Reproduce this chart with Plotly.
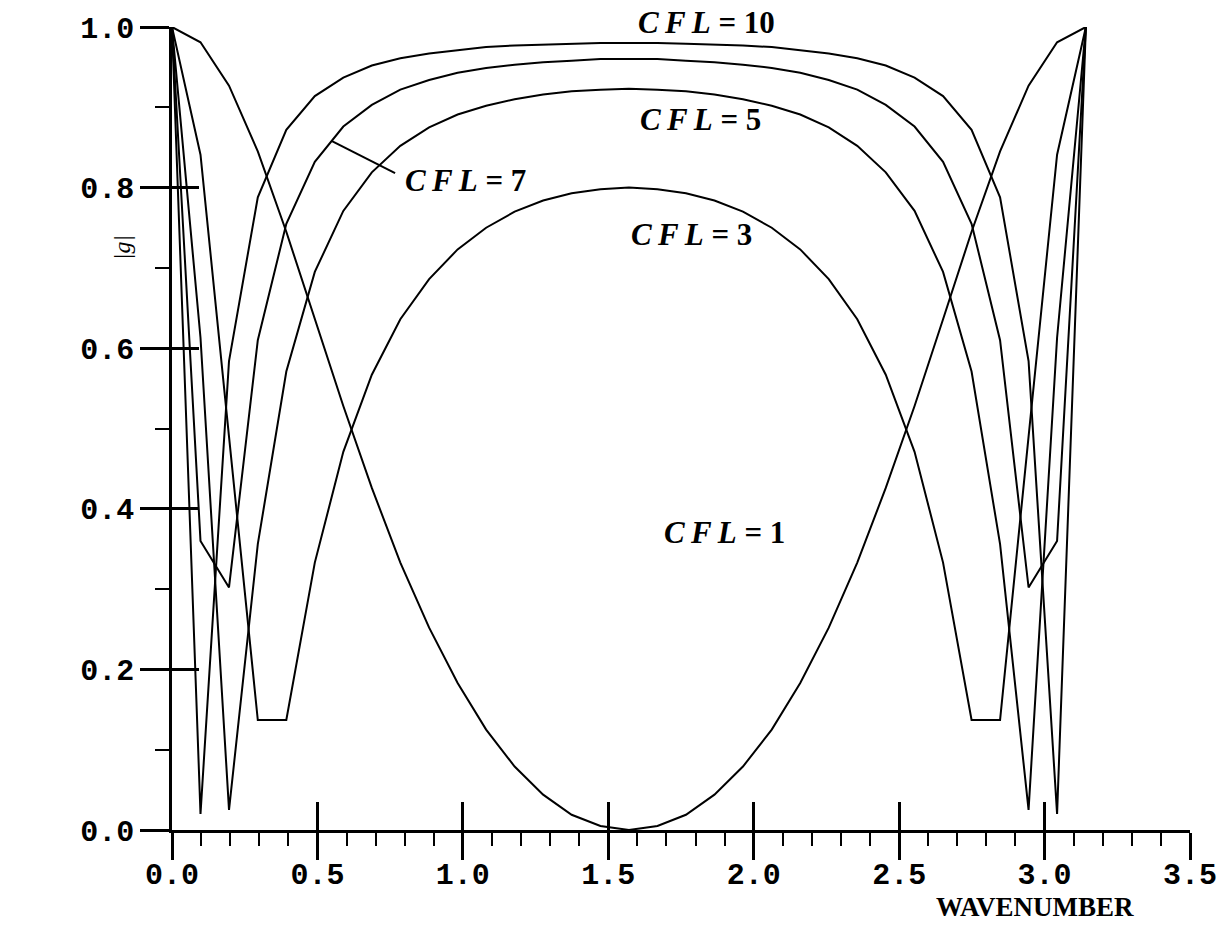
import plotly.graph_objects as go

# Wavenumbers k = j*pi/32, j = 0..32
wavenumber = [0.000, 0.098, 0.196, 0.295, 0.393, 0.491, 0.589, 0.687, 0.785,
              0.884, 0.982, 1.080, 1.178, 1.276, 1.374, 1.473, 1.571, 1.669,
              1.767, 1.865, 1.963, 2.062, 2.160, 2.258, 2.356, 2.454, 2.553,
              2.651, 2.749, 2.847, 2.945, 3.043, 3.142]

# Amplification factor |g| for each CFL number
g_cfl1 = [1.000, 0.981, 0.927, 0.845, 0.745, 0.636, 0.528, 0.426, 0.333,
          0.252, 0.183, 0.125, 0.079, 0.044, 0.019, 0.005, 0.000, 0.005,
          0.019, 0.044, 0.079, 0.125, 0.183, 0.252, 0.333, 0.426, 0.528,
          0.636, 0.745, 0.845, 0.927, 0.981, 1.000]
g_cfl3 = [1.000, 0.841, 0.490, 0.137, 0.137, 0.333, 0.471, 0.567, 0.636,
          0.686, 0.723, 0.750, 0.770, 0.784, 0.793, 0.798, 0.800, 0.798,
          0.793, 0.784, 0.770, 0.750, 0.723, 0.686, 0.636, 0.567, 0.471,
          0.333, 0.137, 0.137, 0.490, 0.841, 1.000]
g_cfl5 = [1.000, 0.613, 0.025, 0.356, 0.571, 0.695, 0.771, 0.819, 0.852,
          0.875, 0.891, 0.902, 0.910, 0.916, 0.920, 0.922, 0.923, 0.922,
          0.920, 0.916, 0.910, 0.902, 0.891, 0.875, 0.852, 0.819, 0.771,
          0.695, 0.571, 0.356, 0.025, 0.613, 1.000]
g_cfl7 = [1.000, 0.360, 0.302, 0.610, 0.755, 0.832, 0.876, 0.903, 0.922,
          0.934, 0.943, 0.949, 0.953, 0.956, 0.958, 0.960, 0.960, 0.960,
          0.958, 0.956, 0.953, 0.949, 0.943, 0.934, 0.922, 0.903, 0.876,
          0.832, 0.755, 0.610, 0.302, 0.360, 1.000]
g_cfl10 = [1.000, 0.020, 0.584, 0.788, 0.872, 0.914, 0.937, 0.952, 0.961,
           0.967, 0.971, 0.975, 0.977, 0.978, 0.979, 0.980, 0.980, 0.980,
           0.979, 0.978, 0.977, 0.975, 0.971, 0.967, 0.961, 0.952, 0.937,
           0.914, 0.872, 0.788, 0.584, 0.020, 1.000]

series = [("CFL = 1", g_cfl1), ("CFL = 3", g_cfl3), ("CFL = 5", g_cfl5),
          ("CFL = 7", g_cfl7), ("CFL = 10", g_cfl10)]

x_major = [0.0, 0.5, 1.0, 1.5, 2.0, 2.5, 3.0, 3.5]
y_major = [0.0, 0.2, 0.4, 0.6, 0.8, 1.0]

# curve labels in paper coordinates: (cfl number, x, y, anchor)
curve_labels = [("10", 0.5255, 1.005, "center"),
                ("5", 0.519, 0.885, "center"),
                ("7", 0.227, 0.809, "left"),
                ("3", 0.510, 0.742, "center"),
                ("1", 0.543, 0.371, "center")]

fig = go.Figure()
for name, g in series:
    fig.add_trace(go.Scatter(x=wavenumber, y=g, mode="lines", name=name,
                             line=dict(color="black", width=2),
                             showlegend=False, hoverinfo="skip"))

tick_font = dict(family="Liberation Mono", size=30, color="black", weight="bold")
label_font = dict(family="Liberation Serif", size=31, color="black", weight="bold")

fig.update_layout(
    width=1220, height=934,
    margin=dict(l=172, r=30, t=27, b=104, autoexpand=False),
    plot_bgcolor="white", paper_bgcolor="white",
    xaxis=dict(range=[0, 3.5], showline=True, linecolor="black", linewidth=2.5,
               showgrid=False, zeroline=False, automargin=False,
               tickmode="array", tickvals=x_major, tickformat=".1f",
               ticks="outside", ticklen=27, tickwidth=2.5, tickcolor="black",
               tickfont=tick_font, ticklabelstandoff=-12,
               minor=dict(dtick=0.1, ticks="outside", ticklen=13,
                          tickwidth=2, tickcolor="black", showgrid=False)),
    xaxis2=dict(range=[0, 3.5], overlaying="x", anchor="y", side="bottom",
                showline=False, showgrid=False, zeroline=False, automargin=False,
                tickmode="array", tickvals=x_major, showticklabels=False,
                ticks="inside", ticklen=28, tickwidth=2.5, tickcolor="black"),
    yaxis=dict(range=[0, 1], showline=True, linecolor="black", linewidth=2.5,
               showgrid=False, zeroline=False, automargin=False,
               tickmode="array", tickvals=y_major, tickformat=".1f",
               ticks="outside", ticklen=29, tickwidth=2.5, tickcolor="black",
               tickfont=tick_font,
               minor=dict(dtick=0.1, ticks="outside", ticklen=14,
                          tickwidth=2, tickcolor="black", showgrid=False)),
    yaxis2=dict(range=[0, 1], overlaying="y", anchor="x", side="left",
                showline=False, showgrid=False, zeroline=False, automargin=False,
                tickmode="array", tickvals=y_major, showticklabels=False,
                ticks="inside", ticklen=27, tickwidth=2.5, tickcolor="black"),
)

# empty trace so the overlay axes are rendered
fig.add_trace(go.Scatter(x=[None], y=[None], xaxis="x2", yaxis="y2",
                         showlegend=False, hoverinfo="skip"))

for num, lx, ly, anchor in curve_labels:
    fig.add_annotation(x=lx, y=ly, xref="paper", yref="paper", showarrow=False,
                       xanchor=anchor, yanchor="middle",
                       text="<i>C\u2009F\u2009L</i> = " + num, font=label_font)

# leader line pointing at the CFL = 7 curve
fig.add_shape(type="line", xref="x", yref="y", x0=0.550, y0=0.858,
              x1=0.767, y1=0.818, line=dict(color="black", width=2))

fig.add_annotation(x=-0.0491, y=0.7248, xref="paper", yref="paper",
                   xanchor="center", yanchor="middle",
                   showarrow=False, text="<i>|g|</i>", textangle=-90,
                   font=dict(family="Liberation Serif", size=24, color="black"))
fig.add_annotation(x=0.8477, y=-0.0965, xref="paper", yref="paper",
                   xanchor="center", yanchor="middle",
                   showarrow=False, text="WAVENUMBER",
                   font=dict(family="Liberation Serif", size=27, color="black",
                             weight="bold"))

fig.write_html("out.html")
